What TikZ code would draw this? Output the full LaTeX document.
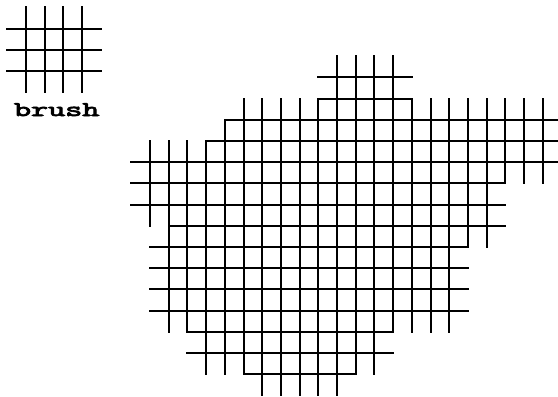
\documentclass[tikz,border=0pt]{standalone}
\usepackage{fontspec}
\newfontfamily\brushfont[Extension=.otf,FakeBold=3]{lmmono10-regular}
\usepackage{tikz}

\begin{document}
\begin{tikzpicture}[
    x=1pt,y=-1pt,
    hatch/.style={line width=2pt,line cap=rect},
    tag/.style={font=\brushfont\fontsize{21}{21}\selectfont,anchor=base,xscale=1.55,inner sep=0pt}
]
\useasboundingbox (0,0) rectangle (558,397);

% the brush
\begin{scope}[shift={(7.3pt,-7.3pt)},x=18.7pt,y=-21.2pt]
\draw[hatch] (1,0) -- (1,4) (2,0) -- (2,4) (3,0) -- (3,4) (4,0) -- (4,4);
\draw[hatch] (0,1) -- (5,1) (0,2) -- (5,2) (0,3) -- (5,3);
\end{scope}
\node[tag] (brushlbl) at (56.7,116) {brush};

% the painted area
\begin{scope}[shift={(131.3pt,-77.3pt)},x=18.7pt,y=-21.2pt]
\draw[hatch] (10,0) -- (15,0) (10,1) -- (15,1);
\draw[hatch] (5,2) -- (22.8,2) (4,3) -- (22.8,3) (0,4) -- (22.8,4);
\draw[hatch] (0,5) -- (20,5) (0,6) -- (20,6) (2,7) -- (20,7);
\draw[hatch] (1,8) -- (18,8) (1,9) -- (18,9) (1,10) -- (18,10) (1,11) -- (18,11);
\draw[hatch] (3,12) -- (14,12) (3,13) -- (14,13) (6,14) -- (12,14);

\draw[hatch] (1,3) -- (1,7) (2,3) -- (2,12) (3,3) -- (3,12) (4,3) -- (4,14);
\draw[hatch] (5,2) -- (5,14) (6,1) -- (6,14);
\draw[hatch] (7,1) -- (7,15) (8,1) -- (8,15) (9,1) -- (9,15) (10,1) -- (10,15);
\draw[hatch] (11,-1) -- (11,15) (12,-1) -- (12,14) (13,-1) -- (13,14) (14,-1) -- (14,12);
\draw[hatch] (15,1) -- (15,12) (16,1) -- (16,12) (17,1) -- (17,12);
\draw[hatch] (18,1) -- (18,8) (19,1) -- (19,8);
\draw[hatch] (20,1) -- (20,5) (21,1) -- (21,5) (22,1) -- (22,5);
\end{scope}
\end{tikzpicture}
\end{document}
